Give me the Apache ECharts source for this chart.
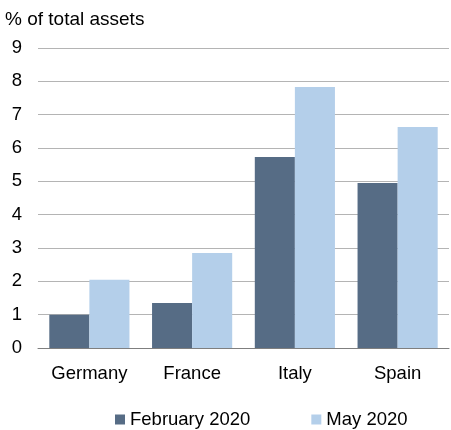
<!DOCTYPE html>
<html>
<head>
<meta charset="utf-8">
<script src="https://cdn.jsdelivr.net/npm/echarts@6/dist/echarts.min.js"></script>
<style>
  html, body { margin: 0; padding: 0; background: #fff; }
  #chart { width: 451px; height: 430px; }
</style>
</head>
<body>
<div id="chart"></div>
<script>
var categories = ['Germany', 'France', 'Italy', 'Spain'];
var feb2020 = [1.0, 1.35, 5.73, 4.95];
var may2020 = [2.05, 2.85, 7.83, 6.63];
var yTicks = [0, 1, 2, 3, 4, 5, 6, 7, 8, 9];

var chart = echarts.init(document.getElementById('chart'));
var font = 'Arial, "Liberation Sans", sans-serif';

chart.setOption({
  animation: false,
  textStyle: { fontFamily: font },
  color: ['#566c85', '#b4cfea'],
  title: {
    text: '% of total assets',
    left: 0,
    top: 5,
    textStyle: { fontSize: 19, fontWeight: 'normal', color: '#000', fontFamily: font }
  },
  legend: {
    left: 115,
    bottom: 1,
    padding: 0,
    itemWidth: 10,
    itemHeight: 10,
    itemGap: 61,
    itemTextGap: 4,
    itemStyle: { borderWidth: 0 },
    icon: 'rect',
    textStyle: { fontSize: 18.5, color: '#000', fontFamily: font },
    data: ['February 2020', 'May 2020']
  },
  grid: {
    left: 38,
    right: 2,
    top: 48,
    bottom: 82,
    containLabel: false,
    outerBoundsMode: 'none'
  },
  xAxis: {
    type: 'category',
    data: categories,
    axisLine: { show: true, lineStyle: { color: '#7f7f7f', width: 1 } },
    axisTick: { show: false },
    axisLabel: { fontSize: 18.5, color: '#000', margin: 16, fontFamily: font }
  },
  yAxis: {
    type: 'value',
    min: yTicks[0],
    max: yTicks[yTicks.length - 1],
    interval: 1,
    axisLine: { show: false },
    axisTick: { show: false },
    axisLabel: { fontSize: 18.5, color: '#000', margin: 16, fontFamily: font },
    splitLine: { show: true, lineStyle: { color: '#b4b4b4', width: 1 } }
  },
  series: [
    {
      name: 'February 2020',
      type: 'bar',
      data: feb2020,
      barGap: '0%',
      barCategoryGap: '22%'
    },
    {
      name: 'May 2020',
      type: 'bar',
      data: may2020,
      barGap: '0%',
      barCategoryGap: '22%'
    }
  ]
});
</script>
</body>
</html>
